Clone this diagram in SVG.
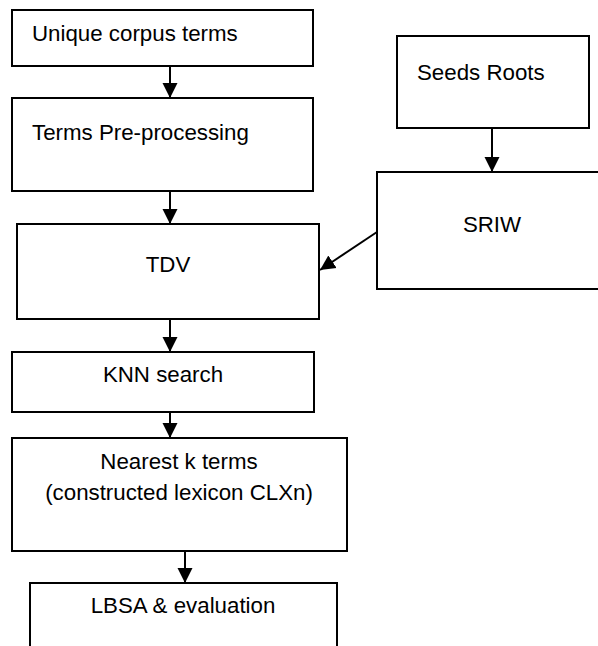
<svg xmlns="http://www.w3.org/2000/svg" width="598" height="646" viewBox="0 0 598 646">
<style>
.box{fill:#fff;stroke:#000;stroke-width:2}
.lbl{font-family:"Liberation Sans",Arial,sans-serif;font-size:22.3px;fill:#000}
.mid{text-anchor:middle}
.conn{stroke:#000;stroke-width:2;fill:none}
</style>
<defs>
<marker id="ah" markerUnits="userSpaceOnUse" markerWidth="16" markerHeight="16" viewBox="0 0 16 16" refX="15" refY="8" orient="auto">
<path d="M0,0.5 L15,8 L0,15.5 Z" fill="#000"/>
</marker>
</defs>
<rect width="598" height="646" fill="#fff"/>
<g id="n-unique">
<rect class="box" x="12" y="10" width="301" height="56"/>
<text class="lbl" x="32" y="41">Unique corpus terms</text>
</g>
<g id="n-preproc">
<rect class="box" x="12" y="98" width="301" height="93"/>
<text class="lbl" x="32" y="140">Terms Pre-processing</text>
</g>
<g id="n-seeds">
<rect class="box" x="397" y="36" width="192" height="92"/>
<text class="lbl" x="417" y="80">Seeds Roots</text>
</g>
<g id="n-sriw">
<rect class="box" x="377" y="172" width="230" height="117"/>
<text class="lbl mid" x="492" y="232">SRIW</text>
</g>
<g id="n-tdv">
<rect class="box" x="17" y="224" width="302" height="95"/>
<text class="lbl mid" x="168" y="272">TDV</text>
</g>
<g id="n-knn">
<rect class="box" x="12" y="352" width="302" height="60"/>
<text class="lbl mid" x="163" y="382">KNN search</text>
</g>
<g id="n-nearest">
<rect class="box" x="12" y="438" width="335" height="113"/>
<text class="lbl mid" x="179" y="469">Nearest k terms</text>
<text class="lbl mid" x="179" y="500">(constructed lexicon CLXn)</text>
</g>
<g id="n-lbsa">
<rect class="box" x="30" y="583" width="307" height="80"/>
<text class="lbl mid" x="183" y="613">LBSA &amp; evaluation</text>
</g>
<g id="connectors">
<line class="conn" x1="170" y1="66" x2="170" y2="98" marker-end="url(#ah)"/>
<line class="conn" x1="170" y1="191" x2="170" y2="224" marker-end="url(#ah)"/>
<line class="conn" x1="492" y1="128" x2="492" y2="172" marker-end="url(#ah)"/>
<line class="conn" x1="377" y1="232" x2="320" y2="270" marker-end="url(#ah)"/>
<line class="conn" x1="170" y1="319" x2="170" y2="352" marker-end="url(#ah)"/>
<line class="conn" x1="170" y1="412" x2="170" y2="438" marker-end="url(#ah)"/>
<line class="conn" x1="185" y1="551" x2="185" y2="583" marker-end="url(#ah)"/>
</g>
</svg>
